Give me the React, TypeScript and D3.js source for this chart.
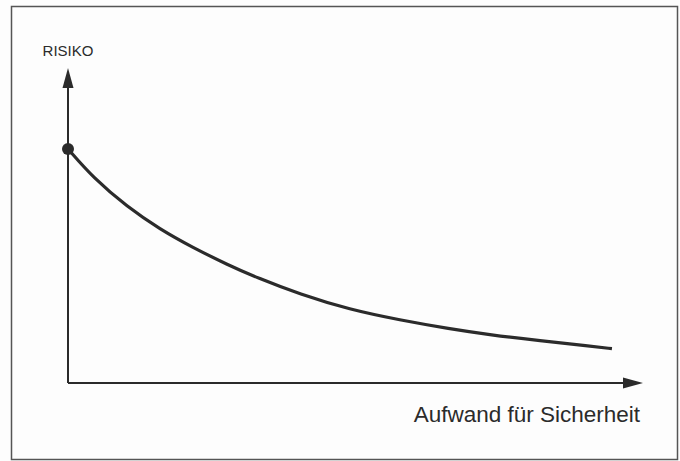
import React from 'react';
import * as d3 from 'd3';

// curve (x: effort 0..100, y: risk 0..100)
const effort = [0, 4.4, 10.3, 16, 21.7, 27.7, 32.9, 40.3, 49, 57.7, 66.4, 73.4, 82.1, 90.8, 94.6];
const risk = [74.3, 65.1, 55.9, 48.8, 43.0, 37.6, 33.4, 28.2, 23.3, 20, 17.2, 15.3, 13.4, 11.7, 10.9];
const yLabel = 'RISIKO';
const xLabel = 'Aufwand für Sicherheit';

const width = 680;
const height = 461;

function App() {
    const x = d3.scaleLinear().domain([0, 100]).range([68, 643]);
    const y = d3.scaleLinear().domain([0, 100]).range([383, 68]);
    const ink = '#2b2b2b';

    const pts: [number, number][] = effort.map((e, i) => [e, risk[i]]);
    const line = d3.line<[number, number]>()
        .x(d => x(d[0]))
        .y(d => y(d[1]))
        .curve(d3.curveBasis);

    const x0 = x(0), y0 = y(0);
    const xEnd = x(100), yEnd = y(100);
    const arrowLen = 20, arrowHalf = 5.5;

    return (
        <svg width={width} height={height}
             style={{position: 'absolute', left: 0, top: 0, background: '#fdfdfd'}}
             fontFamily="'Liberation Sans', Arial, sans-serif">
            <rect x={11.5} y={6.5} width={666} height={453} fill="none" stroke="#555" strokeWidth={1.5}/>
            {/* axes */}
            <line x1={x0} y1={y0} x2={x0} y2={yEnd + arrowLen - 2} stroke={ink} strokeWidth={2}/>
            <line x1={x0} y1={y0} x2={xEnd - arrowLen + 2} y2={y0} stroke={ink} strokeWidth={2}/>
            <path d={`M${x0},${yEnd} L${x0 - arrowHalf},${yEnd + arrowLen} L${x0 + arrowHalf},${yEnd + arrowLen} Z`} fill={ink}/>
            <path d={`M${xEnd},${y0} L${xEnd - arrowLen},${y0 - arrowHalf} L${xEnd - arrowLen},${y0 + arrowHalf} Z`} fill={ink}/>
            {/* curve */}
            <path d={line(pts) || ''} fill="none" stroke={ink} strokeWidth={3.2} strokeLinecap="butt"/>
            <circle cx={x(effort[0])} cy={y(risk[0])} r={6} fill={ink}/>
            {/* labels */}
            <text x={68} y={56} fontSize={15} textAnchor="middle" fill={ink}>{yLabel}</text>
            <text x={640} y={421.5} fontSize={22.5} textAnchor="end" fill={ink}>{xLabel}</text>
        </svg>
    );
}

export default App;
